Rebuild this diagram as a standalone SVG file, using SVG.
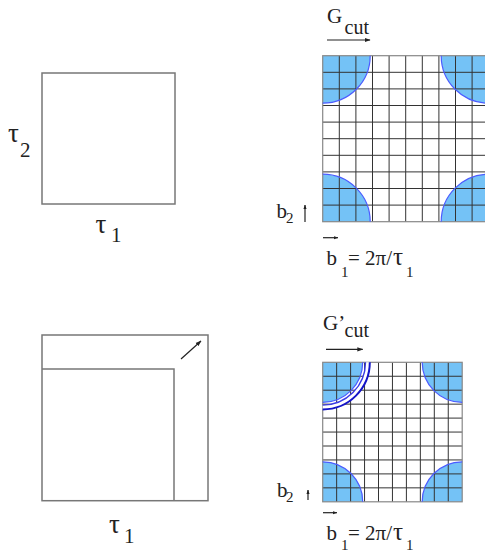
<svg xmlns="http://www.w3.org/2000/svg" width="485" height="552" viewBox="0 0 485 552">
<defs>
<style>
.t{font-family:"Liberation Serif","Times New Roman",serif;fill:#222}
.box{fill:none;stroke:#777;stroke-width:1.5}
.fill{fill:#74c2f6}
.edge{fill:none;stroke:#4b5bff;stroke-width:1.2}
.grid{stroke:#333;stroke-width:1;fill:none}
.border{fill:none;stroke:#888;stroke-width:1.2}
.arr{stroke:#222;stroke-width:1.2;fill:none}
</style>
<marker id="ah" viewBox="0 0 10 10" refX="9" refY="5" markerWidth="6" markerHeight="6" orient="auto" markerUnits="userSpaceOnUse">
<path d="M0,1.5 L10,5 L0,8.5 Z" fill="#222"/>
</marker>
<marker id="ahs" viewBox="0 0 10 10" refX="9" refY="5" markerWidth="4.5" markerHeight="4.5" orient="auto" markerUnits="userSpaceOnUse">
<path d="M0,1.5 L10,5 L0,8.5 Z" fill="#222"/>
</marker>
</defs>
<rect width="485" height="552" fill="#fff"/>

<g id="cell-real-1">
<rect class="box" x="42" y="73" width="133" height="131"/>
<text class="t" x="8" y="141.7" font-size="27">τ</text>
<text class="t" x="20" y="156.7" font-size="21">2</text>
<text class="t" x="95.5" y="233" font-size="27">τ</text>
<text class="t" x="111" y="241.7" font-size="21">1</text>
</g>

<g id="cell-real-2">
<rect class="box" x="42" y="335" width="166" height="165.7"/>
<polyline class="box" points="42,369 174,369 174,500.7"/>
<text class="t" x="109" y="533.3" font-size="27">τ</text>
<text class="t" x="124" y="542.7" font-size="21">1</text>
</g>

<g id="grid-1">
<rect x="322.7" y="55.7" width="166" height="166" fill="#fff"/>
<path class="fill" d="M322.7,55.7 h47.5 A47.5,47.5 0 0 1 322.7,103.2 Z"/>
<path class="fill" d="M488.7,55.7 h-47.5 A47.5,47.5 0 0 0 488.7,103.2 Z"/>
<path class="fill" d="M322.7,221.7 v-47.5 A47.5,47.5 0 0 1 370.2,221.7 Z"/>
<path class="fill" d="M488.7,221.7 v-47.5 A47.5,47.5 0 0 0 441.2,221.7 Z"/>
<path class="grid" d="M339.3,55.7V221.7M355.9,55.7V221.7M372.5,55.7V221.7M389.1,55.7V221.7M405.7,55.7V221.7M422.3,55.7V221.7M438.9,55.7V221.7M455.5,55.7V221.7M472.1,55.7V221.7M322.7,72.3H488.7M322.7,88.9H488.7M322.7,105.5H488.7M322.7,122.1H488.7M322.7,138.7H488.7M322.7,155.3H488.7M322.7,171.9H488.7M322.7,188.5H488.7M322.7,205.1H488.7"/>
<rect class="border" x="322.7" y="55.7" width="166" height="166"/>
<path class="edge" d="M370.2,55.7 A47.5,47.5 0 0 1 322.7,103.2"/>
<path class="edge" d="M441.2,55.7 A47.5,47.5 0 0 0 488.7,103.2"/>
<path class="edge" d="M322.7,174.2 A47.5,47.5 0 0 1 370.2,221.7"/>
<path class="edge" d="M488.7,174.2 A47.5,47.5 0 0 0 441.2,221.7"/>
</g>

<g id="grid-2">
<rect x="322.7" y="362.3" width="139.5" height="139.5" fill="#fff"/>
<path class="fill" d="M322.7,362.3 h40 A40,40 0 0 1 322.7,402.3 Z"/>
<path class="fill" d="M462.2,362.3 h-40 A40,40 0 0 0 462.2,402.3 Z"/>
<path class="fill" d="M322.7,501.8 v-40 A40,40 0 0 1 362.7,501.8 Z"/>
<path class="fill" d="M462.2,501.8 v-40 A40,40 0 0 0 422.2,501.8 Z"/>
<path class="grid" d="M336.65,362.3V501.8M350.6,362.3V501.8M364.55,362.3V501.8M378.5,362.3V501.8M392.45,362.3V501.8M406.4,362.3V501.8M420.35,362.3V501.8M434.3,362.3V501.8M448.25,362.3V501.8M322.7,376.25H462.2M322.7,390.2H462.2M322.7,404.15H462.2M322.7,418.1H462.2M322.7,432.05H462.2M322.7,446H462.2M322.7,459.95H462.2M322.7,473.9H462.2M322.7,487.85H462.2"/>
<rect class="border" x="322.7" y="362.3" width="139.5" height="139.5"/>
<path class="edge" d="M362.7,362.3 A40,40 0 0 1 322.7,402.3"/>
<path class="edge" d="M422.2,362.3 A40,40 0 0 0 462.2,402.3"/>
<path class="edge" d="M322.7,461.8 A40,40 0 0 1 362.7,501.8"/>
<path class="edge" d="M462.2,461.8 A40,40 0 0 0 422.2,501.8"/>
<path d="M367.7,362.3 A45,45 0 0 1 322.7,407.3" fill="none" stroke="#fff" stroke-width="4"/>
<path d="M365.5,362.3 A42.8,42.8 0 0 1 322.7,405.1" fill="none" stroke="#3a3ae6" stroke-width="1.4"/>
<path d="M369.8,362.3 A47.1,47.1 0 0 1 322.7,409.4" fill="none" stroke="#1414c8" stroke-width="2"/>
</g>

<g id="labels-1">
<text class="t" x="327" y="23" font-size="21">G</text>
<text class="t" x="344.5" y="33.5" font-size="20">cut</text>
<text class="t" x="276.5" y="218" font-size="21">b</text>
<text class="t" x="286" y="223" font-size="15">2</text>
<text class="t" x="326.5" y="265" font-size="21">b</text>
<text class="t" x="341" y="276.5" font-size="15">1</text>
<text class="t" x="348" y="265" font-size="21">= 2π/</text>
<text class="t" x="393" y="265" font-size="25">τ</text>
<text class="t" x="406" y="276.5" font-size="15">1</text>
</g>

<g id="labels-2">
<text class="t" x="323" y="330" font-size="21">G’</text>
<text class="t" x="344.5" y="336.5" font-size="20">cut</text>
<text class="t" x="277" y="497" font-size="21">b</text>
<text class="t" x="286" y="502" font-size="15">2</text>
<text class="t" x="326.5" y="539.5" font-size="21">b</text>
<text class="t" x="341" y="550.3" font-size="15">1</text>
<text class="t" x="348" y="539.5" font-size="21">= 2π/</text>
<text class="t" x="393" y="539.5" font-size="25">τ</text>
<text class="t" x="406" y="550.3" font-size="15">1</text>
</g>

<g id="connectors">
<line class="arr" x1="327" y1="40" x2="370" y2="40" marker-end="url(#ah)"/>
<line class="arr" x1="305" y1="222" x2="305" y2="205" marker-end="url(#ahs)"/>
<line class="arr" x1="323" y1="237.7" x2="338" y2="237.7" stroke-width="1" marker-end="url(#ahs)"/>
<line class="arr" x1="326" y1="349.3" x2="362.7" y2="349.3" marker-end="url(#ah)"/>
<line class="arr" x1="308" y1="500" x2="308" y2="490" marker-end="url(#ahs)"/>
<line class="arr" x1="323" y1="512.7" x2="337" y2="512.7" stroke-width="1" marker-end="url(#ahs)"/>
<line class="arr" x1="181" y1="359" x2="201" y2="341" marker-end="url(#ah)"/>
</g>
</svg>
